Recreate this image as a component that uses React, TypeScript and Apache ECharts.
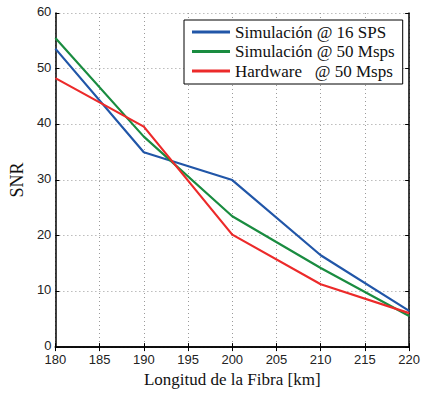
import React, { useEffect, useRef } from "react";
import * as echarts from "echarts";

// Fibre length (km) and measured SNR for each configuration
const lengths = [180, 190, 200, 210, 220];
const sim16 = [53.6, 35.0, 30.0, 16.5, 6.5];
const sim50 = [55.5, 37.8, 23.5, 14.2, 5.6];
const hw50 = [48.3, 39.6, 20.2, 11.3, 6.1];

const seriesNames = [
  "Simulación @ 16 SPS",
  "Simulación @ 50 Msps",
  "Hardware   @ 50 Msps",
];
const seriesColors = ["#2156a8", "#1a8c40", "#ec2a2a"];

const sansFont = "Liberation Sans, Arial, sans-serif";
const serifFont = "Liberation Serif, Times New Roman, serif";

const pairs = (ys: number[]) => lengths.map((x, i) => [x, ys[i]]);

export default function App() {
  const ref = useRef<HTMLDivElement>(null);

  useEffect(() => {
    if (!ref.current) return;
    const chart = echarts.init(ref.current, undefined, { renderer: "svg" });

    const frameAxisLine = { show: true, lineStyle: { color: "#000", width: 1.5 } };
    const inTicks = { show: true, inside: true, length: 4, lineStyle: { color: "#000", width: 1 } };
    const dotted = { show: true, lineStyle: { color: "#9a9a9a", width: 1, type: [1, 3] as any } };

    chart.setOption({
      animation: false,
      backgroundColor: "#fff",
      grid: { left: 51, right: 13, top: 13, bottom: 44, containLabel: false },
      legend: {
        orient: "vertical",
        left: 184,
        top: 20,
        backgroundColor: "#fff",
        borderColor: "#000",
        borderWidth: 1,
        padding: [3.5, 8, 4.5, 8],
        itemGap: 2.5,
        itemWidth: 38,
        itemHeight: 3,
        icon: "rect",
        textStyle: { fontFamily: serifFont, fontSize: 17, color: "#111", lineHeight: 17 },
        data: seriesNames,
      },
      xAxis: [
        {
          type: "value",
          min: 180,
          max: 220,
          interval: 5,
          position: "bottom",
          name: "Longitud de la Fibra [km]",
          nameLocation: "middle",
          nameGap: 20,
          nameTextStyle: { fontFamily: serifFont, fontSize: 17, color: "#111" },
          axisLine: frameAxisLine,
          axisTick: inTicks,
          axisLabel: { fontFamily: sansFont, fontSize: 13, color: "#222", margin: 6 },
          splitLine: dotted,
        },
        {
          type: "value",
          min: 180,
          max: 220,
          interval: 5,
          position: "top",
          axisLine: frameAxisLine,
          axisTick: inTicks,
          axisLabel: { show: false },
          splitLine: { show: false },
        },
      ],
      yAxis: [
        {
          type: "value",
          min: 0,
          max: 60,
          interval: 10,
          position: "left",
          name: "SNR",
          nameLocation: "middle",
          nameRotate: 90,
          nameGap: 24,
          nameTextStyle: { fontFamily: serifFont, fontSize: 18, color: "#111" },
          axisLine: frameAxisLine,
          axisTick: inTicks,
          axisLabel: {
            fontFamily: sansFont,
            fontSize: 13,
            color: "#222",
            margin: 4,
            verticalAlign: "bottom",
            padding: [0, 0, -5, 0],
          },
          splitLine: dotted,
        },
        {
          type: "value",
          min: 0,
          max: 60,
          interval: 10,
          position: "right",
          axisLine: frameAxisLine,
          axisTick: inTicks,
          axisLabel: { show: false },
          splitLine: { show: false },
        },
      ],
      series: [sim16, sim50, hw50].map((ys, i) => ({
        name: seriesNames[i],
        type: "line",
        data: pairs(ys),
        showSymbol: false,
        symbol: "none",
        color: seriesColors[i],
        lineStyle: { color: seriesColors[i], width: 2.2 },
        z: 3 + i,
      })),
    });

    return () => chart.dispose();
  }, []);

  return (
    <div
      ref={ref}
      style={{ position: "absolute", left: 0, top: 0, width: 423, height: 393 }}
    />
  );
}
